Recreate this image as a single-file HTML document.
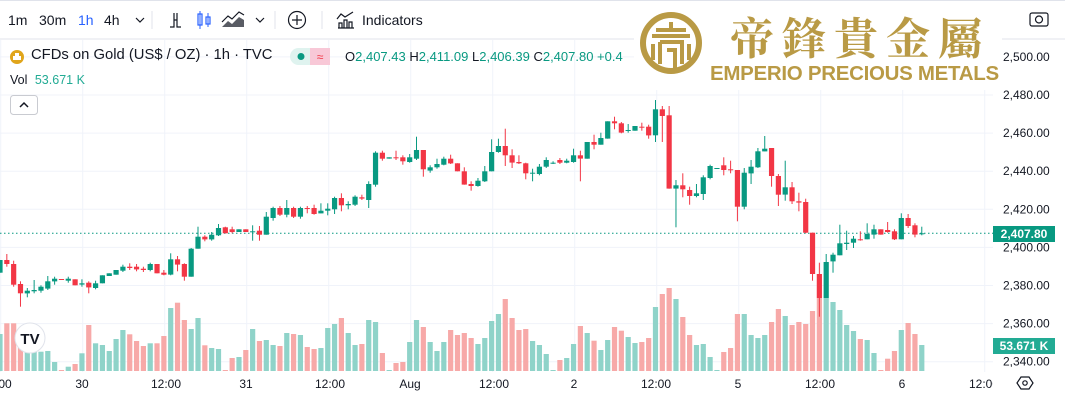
<!DOCTYPE html>
<html><head><meta charset="utf-8">
<style>
body{margin:0;width:1065px;height:404px;overflow:hidden;background:#fff;font-family:"Liberation Sans","Noto Sans CJK TC",sans-serif;color:#131722;position:relative}
.t{position:absolute;white-space:nowrap}
</style></head><body>
<svg id="c" width="1065" height="404" style="position:absolute;left:0;top:0"></svg>

<div class="t" style="left:8px;top:12px;font-size:14px">1m</div>
<div class="t" style="left:39px;top:12px;font-size:14px">30m</div>
<div class="t" style="left:78px;top:12px;font-size:14px;color:#2962ff">1h</div>
<div class="t" style="left:104px;top:12px;font-size:14px">4h</div>
<div class="t" style="left:362px;top:12px;font-size:14px">Indicators</div>

<div class="t" style="left:31px;top:47px;font-size:14.8px">CFDs on Gold (US$ / OZ) · 1h · TVC</div>
<div class="t" style="left:345px;top:49px;font-size:13px;color:#089981"><span style="color:#131722">O</span>2,407.43 <span style="color:#131722">H</span>2,411.09 <span style="color:#131722">L</span>2,406.39 <span style="color:#131722">C</span>2,407.80 +0.4</div>
<div class="t" style="left:10px;top:73px;font-size:12.5px">Vol <span style="color:#22ab94;margin-left:4px">53.671 K</span></div>

<div class="t" style="left:730px;top:9px;font-size:44px;color:#b99a45;font-family:'Noto Serif CJK SC',serif;font-weight:bold;letter-spacing:8px;background:#fff;line-height:52px">帝鋒貴金屬</div>
<div class="t" style="left:710px;top:62px;font-size:20.5px;font-weight:bold;color:#b99a45;background:#fff;line-height:24px;letter-spacing:-0.3px">EMPERIO PRECIOUS METALS</div>

<div class="t" style="left:993px;top:226px;width:62px;height:16px;background:#089981;color:#fff;font-size:12px;font-weight:bold;line-height:16px;text-align:center">2,407.80</div>
<div class="t" style="left:993px;top:338px;width:62px;height:16px;background:#22ab94;color:#fff;font-size:12px;font-weight:bold;line-height:16px;text-align:center">53.671 K</div>

<script>
var s='';
var NS=document.getElementById('c');
function R(x,y,w,h,f,extra){s+='<rect x="'+x+'" y="'+y+'" width="'+w+'" height="'+h+'" fill="'+f+'" '+(extra||'')+'/>';}
function L(x1,y1,x2,y2,c,w,extra){s+='<line x1="'+x1+'" y1="'+y1+'" x2="'+x2+'" y2="'+y2+'" stroke="'+c+'" stroke-width="'+(w||1)+'" '+(extra||'')+'/>';}
function T(x,y,t,a,sz,c){s+='<text x="'+x+'" y="'+y+'" font-size="'+(sz||12)+'" fill="'+(c||'#131722')+'" text-anchor="'+(a||'start')+'" font-family="Liberation Sans, sans-serif">'+t+'</text>';}
L(0,39,1065,39,'#e0e3eb');
L(0,0.5,1065,0.5,'#e0e3eb');
[152,275,322].forEach(function(x){L(x,11,x,29,'#e0e3eb');});
for(var k=0;k<13;k++){var gx=0.7+82*k;L(gx,40,gx,372,'#f0f3fa');}
for(var p=2500;p>=2340;p-=20){var gy=95+(2480-p)*1.905;L(0,gy,993,gy,'#f0f3fa');T(1003,gy+4,p.toLocaleString('en-US',{minimumFractionDigits:2}),'start',12);}
var g='#089981',r='#f23645',vg='#8fd3c9',vr='#f7a9a8';
var z2=[[1,510,548,510,548,732],[0,510,522,492,530,700],[0,522,584,512,590,700],[0,582,610,574,650,740],[1,602,610,594,622,760],[1,600,604,570,610,760],[1,590,602,586,608,785],[1,574,596,558,600,783],[1,566,574,560,584,816],[0,567,569,567,569,840],[1,566,572,560,578,830],[0,568,586,568,586,822],[1,580,584,568,590,790],[0,578,592,574,610,705],[1,580,594,572,598,760],[1,556,580,556,580,765],[1,550,558,550,558,783],[1,540,554,540,554,747],[1,530,542,524,546,720],[0,530,534,520,540,733],[0,530,538,522,544,753],[0,536,540,530,546,768],[1,522,540,518,544,760],[0,522,550,522,550,760],[0,548,554,540,556,738],[1,508,554,490,556,654],[0,508,524,498,544,638],[0,522,560,520,572,690],[1,476,560,474,560,717],[1,440,476,410,476,684],[0,440,448,436,454,766],[1,434,448,426,452,774],[1,414,436,402,438,777],[0,412,430,410,430,840],[0,418,426,410,430,804],[1,418,426,418,426,801],[0,418,426,418,426,780],[1,424,426,406,452,717],[0,422,434,408,452,753],[1,380,434,366,434,750],[1,354,384,350,392,765],[0,354,374,348,378,768],[1,354,374,330,382,729],[0,354,380,350,384,732],[1,354,380,350,386,735],[0,354,356,348,370,771],[0,354,372,344,374,777],[1,362,370,340,370,774],[1,356,362,340,376,714],[1,324,358,320,372,702],[0,324,346,310,364,684],[1,342,346,334,358,729],[1,320,344,316,348,765]];
var z3=[[0,322,326,314,330,762],[1,282,330,274,354,690],[1,188,284,184,290,696],[0,188,206,182,212,789],[1,202,206,202,206,840],[0,202,204,182,210,819],[0,202,214,196,224,816],[1,202,216,192,218,756],[1,180,206,140,210,690],[0,180,238,180,260,711],[1,232,242,226,248,756],[1,222,232,206,236,783],[1,206,224,200,226,756],[0,206,220,194,222,720],[0,220,244,220,244,735],[0,244,284,232,284,729],[0,282,288,274,302,744],[1,272,288,264,290,762],[1,244,274,228,276,744],[1,186,244,148,244,693],[1,168,186,146,188,672],[0,168,196,116,228,627],[0,196,218,178,234,684],[0,216,220,196,222,720],[0,220,250,218,268,717],[1,248,250,236,274,753],[1,230,252,222,256,765],[1,210,230,202,234,792],[1,218,220,214,222,840],[0,210,218,204,222,810],[1,212,218,206,220,804],[1,196,216,176,218,762],[0,196,206,182,274,708],[1,156,206,156,206,729],[0,156,164,134,178,752],[1,144,164,128,164,780],[1,94,146,94,146,750],[0,94,100,80,118,711],[0,100,128,96,130,722],[1,120,122,102,128,741],[1,108,122,108,122,759],[0,110,112,98,122,756],[0,110,136,104,146,744],[1,58,136,30,156,651],[0,58,78,48,156,612],[0,76,296,48,296,594],[1,286,296,270,412,627],[0,286,298,250,322,681],[0,300,318,290,344,735],[1,310,318,282,322,765]];
var z4=[[1,262,312,256,330,762],[1,228,264,224,268,801],[1,234,236,234,236,840],[0,226,240,202,256,786],[0,238,240,212,250,774],[0,240,350,240,394,672],[1,248,350,234,358,672],[1,230,250,210,282,735],[1,184,232,174,234,744],[1,176,184,138,184,735],[0,174,258,174,290,696],[0,258,314,252,348,657],[1,292,314,212,332,678],[0,292,334,276,342,705],[0,334,338,308,364,696],[0,336,428,326,430,702],[0,428,552,428,572,663],[0,552,624,518,680,624],[1,516,624,492,624,624],[1,494,514,488,548,636],[1,460,496,404,496,660],[1,458,462,422,480,705],[1,446,458,438,474,723],[0,448,450,424,452,747],[1,432,448,400,448,750],[1,418,434,404,446,789],[0,418,434,418,434,840],[0,420,426,396,428,806],[0,424,448,418,450,783],[1,384,448,370,448,720],[0,384,408,372,414,699],[0,406,434,400,442,732],[1,430,432,410,436,765]];
var all=z2.concat(z3,z4);
function Y(z){return 90+z/3;}
all.forEach(function(d,i){
 var x=i*6.828;
 var vb=371, vt=Y(d[5]);
 R((x-2.6).toFixed(2),vt.toFixed(1),5.2,Math.max(1,vb-vt).toFixed(1),d[0]?vg:vr);
});
L(0,233.3,993,233.3,'#089981',1,'stroke-dasharray="1.5,2.5"');
all.forEach(function(d,i){
 var x=i*6.828,c=d[0]?g:r;
 L(x.toFixed(2),Y(d[3]).toFixed(1),x.toFixed(2),Y(d[4]).toFixed(1),c,1);
 var bt=Y(d[1]),bb=Y(d[2]);
 R((x-2.6).toFixed(2),bt.toFixed(1),5.2,Math.max(1,bb-bt).toFixed(1),c);
});
var tl=[[5,'00'],[82,'30'],[166,'12:00'],[246,'31'],[330,'12:00'],[410,'Aug'],[494,'12:00'],[574,'2'],[656,'12:00'],[738,'5'],[820,'12:00'],[902,'6'],[984,'12:00']];
tl.forEach(function(t){T(t[0],388,t[1],'middle',12);});
R(993,372,72,32,'#fff');
s+='<polygon points="1017,383 1021,377 1029,377 1033,383 1029,389 1021,389" fill="none" stroke="#131722" stroke-width="1.2"/><circle cx="1025" cy="383" r="2.2" fill="none" stroke="#131722" stroke-width="1.2"/>';
s+='<circle cx="30" cy="338" r="15" fill="#fff" stroke="#e0e3eb"/><text x="30" y="344" font-size="15" font-weight="bold" text-anchor="middle" fill="#131722" font-family="Liberation Sans">TV</text>';
s+='<rect x="10.5" y="95.5" width="27" height="19" rx="3" fill="#fff" stroke="#c9cbd1"/><polyline points="20,107 24,103 28,107" fill="none" stroke="#131722" stroke-width="1.5"/>';
s+='<circle cx="17" cy="57" r="7" fill="#e0a51b"/><rect x="13" y="56" width="8" height="4" fill="#fff"/><rect x="15" y="53" width="4" height="3" fill="#fff"/>';
s+='<rect x="290" y="48" width="40" height="17" rx="8.5" fill="#dff3ef"/><rect x="310" y="48" width="20" height="17" fill="#f8c8d7"/><rect x="320" y="48" width="10" height="17" rx="8" fill="#f8c8d7"/><circle cx="301" cy="56.5" r="3.5" fill="#089981"/><text x="320" y="61" font-size="12" fill="#f23645" text-anchor="middle">≈</text>';
s+='<polyline points="136,18 140,22 144,18" fill="none" stroke="#131722" stroke-width="1.2"/>';
s+='<path d="M170 27h4V13M177 13v14h4M174 20h3" fill="none" stroke="#131722" stroke-width="1.2"/>';
s+='<rect x="198" y="14" width="4" height="11" fill="none" stroke="#2962ff" stroke-width="1.2"/><line x1="200" y1="11" x2="200" y2="29" stroke="#2962ff"/><rect x="206" y="17" width="4" height="7" fill="none" stroke="#2962ff" stroke-width="1.2"/><line x1="208" y1="13" x2="208" y2="27" stroke="#2962ff"/>';
s+='<path d="M222 27l6-6 4 3 7-7 5 3v7z" fill="#131722" opacity=".7"/><polyline points="222,22 228,16 232,19 239,12 244,15" fill="none" stroke="#131722" stroke-width="1.2"/>';
s+='<polyline points="256,18 260,22 264,18" fill="none" stroke="#131722" stroke-width="1.2"/>';
s+='<circle cx="297" cy="20" r="8.5" fill="none" stroke="#131722" stroke-width="1.2"/><path d="M297 15v10M292 20h10" stroke="#131722" stroke-width="1.2"/>';
s+='<path d="M338 28h16M339 28v-5h3v5M344 28v-8h3v8M349 28v-6h3v6M337 19l4-5 4 3 8-5" fill="none" stroke="#131722" stroke-width="1.2"/>';
s+='<rect x="1030" y="13" width="18" height="13" rx="2" fill="none" stroke="#131722" stroke-width="1.2"/><circle cx="1039" cy="19.5" r="3.5" fill="none" stroke="#131722" stroke-width="1.2"/>';
s+='<rect x="634" y="8" width="368" height="82" fill="#fff"/><circle cx="671" cy="43" r="28" fill="none" stroke="#b99a45" stroke-width="6"/><path d="M671 22v6M656 30h30M652 36h38M660 42h22v22M660 42v22M667 50h8v20M653 44v16M689 44v16" fill="none" stroke="#b99a45" stroke-width="4"/>';
NS.innerHTML=s;
</script>
</body></html>
